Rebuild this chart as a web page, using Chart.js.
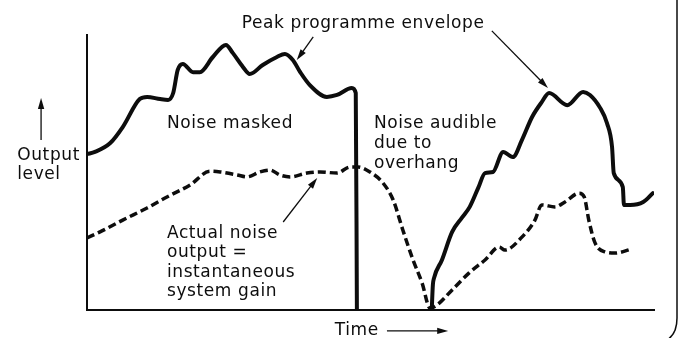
<!DOCTYPE html>
<html>
<head>
<meta charset="utf-8">
<script src="https://cdn.jsdelivr.net/npm/chart.js@4.4.1/dist/chart.umd.min.js"></script>
<style>
  html, body { margin: 0; padding: 0; background: #fff; }
  #wrap { width: 684px; height: 338px; }
</style>
</head>
<body>
<div id="wrap"><canvas id="envelope" width="684" height="338"></canvas></div>
<script>
// time runs 0..100 along the axis, output level 0..100 up the axis
const peakTime = [0, 1.4, 4.1, 6.3, 9.3, 10.6, 12.9, 14.3, 15.2, 16.0, 16.9, 18.7, 19.9, 22.2, 24.5,
  25.7, 27.5, 28.7, 31.0, 33.5, 34.9, 36.3, 37.6, 39.3, 42.3, 44.1, 46.7, 47.4, 47.6, 54,
  60.8, 61.0, 61.2, 62.6, 64.4, 66.1, 67.5, 69.0, 70.2, 71.6, 73.4, 75.1, 76.7, 78.5, 80.2,
  81.5, 84.7, 87.5, 88.7, 90.5, 91.7, 92.6, 92.9, 94.5, 94.7, 95.8, 98.1, 99.8];
const peakLevel = [56.7, 57.5, 60.7, 66.5, 76.7, 77.5, 76.7, 76.4, 78.9, 87.3, 89.5, 86.5, 86.5, 92.0, 96.4,
  93.5, 88.4, 85.8, 89.1, 92.0, 93.1, 90.9, 86.5, 81.8, 77.5, 78.2, 80.7, 78.9, 0, null,
  0, 9.1, 11.6, 18.2, 28.4, 33.5, 37.5, 44.4, 49.8, 50.2, 57.5, 55.6, 61.8, 70.2, 75.6,
  78.9, 74.5, 79.3, 78.2, 73.5, 68.0, 59.3, 49.8, 44.7, 38.2, 38.2, 39.3, 42.5];

const noiseTime = [0, 2.3, 6.3, 10.6, 14.1, 18.2, 21.7, 23.5, 26.5, 28.2, 30.5, 32.3, 34.0, 35.8,
  38.8, 41.1, 44.1, 46.4, 47.8, 49.9, 52.2, 54.0, 55.7, 57.5, 59.1, 60.5, 61.7, 64.4, 67.4,
  70.2, 72.7, 73.7, 76.7, 79.0, 80.2, 82.5, 84.3, 86.8, 87.7, 88.5, 89.6, 91.4, 93.1, 96.1];
const noiseLevel = [26.2, 28.4, 32.7, 37.1, 41.1, 45.5, 50.5, 50.2, 49.1, 48.4, 50.2, 50.9, 49.1, 48.4,
  49.8, 50.2, 49.8, 52.0, 52.0, 50.2, 46.2, 40.0, 29.1, 18.2, 9.8, 0.7, 1.8, 7.3, 13.5,
  18.2, 22.9, 21.8, 26.5, 32.7, 38.2, 37.5, 39.3, 42.5, 41.1, 32.7, 24.4, 21.1, 20.7, 22.2];

// captions: [text, time, level] with level at the text baseline
const labels = [
  ['Peak programme envelope', 27.3, 102.5],
  ['Noise masked', 14.1, 66.2],
  ['Noise audible', 50.6, 66.2],
  ['due to', 50.6, 58.9],
  ['overhang', 50.6, 51.6],
  ['Output', -12.3, 54.5],
  ['level', -12.3, 47.6],
  ['Actual noise', 14.1, 26.2],
  ['output =', 14.1, 19.3],
  ['instantaneous', 14.1, 12.0],
  ['system gain', 14.1, 5.1],
  ['Time', 43.7, -9.1]
];
// pointers: [fromTime, fromLevel, toTime, toLevel]
const pointers = [
  [39.9, 99.3, 37.0, 90.9],
  [71.4, 101.5, 81.3, 80.7],
  [34.6, 32.0, 40.6, 48.0],
  [-8.1, 61.8, -8.1, 77.1],
  [52.9, -7.6, 63.7, -7.6]
];

const toPoints = (xs, ys) => xs.map((x, i) => ({ x, y: ys[i] }));

const ink = '#0d0d0d';

const notes = {
  id: 'notes',
  afterDraw(chart) {
    const { ctx, scales: { x, y } } = chart;
    ctx.save();
    ctx.fillStyle = ink;
    ctx.strokeStyle = ink;
    ctx.font = '17px "DejaVu Sans"';
    ctx.letterSpacing = '0.6px';
    ctx.textBaseline = 'alphabetic';
    labels.forEach(([t, tx, ty]) => {
      ctx.fillText(t, x.getPixelForValue(tx), y.getPixelForValue(ty));
    });

    ctx.lineWidth = 1.3;
    pointers.forEach(([x0, y0, x1, y1]) => {
      const ax = x.getPixelForValue(x0), ay = y.getPixelForValue(y0);
      const bx = x.getPixelForValue(x1), by = y.getPixelForValue(y1);
      const ang = Math.atan2(by - ay, bx - ax);
      const len = 11, wid = 3.2;
      ctx.beginPath();
      ctx.moveTo(ax, ay);
      ctx.lineTo(bx - Math.cos(ang) * len * 0.8, by - Math.sin(ang) * len * 0.8);
      ctx.stroke();
      ctx.beginPath();
      ctx.moveTo(bx, by);
      ctx.lineTo(bx - Math.cos(ang) * len - Math.sin(ang) * wid, by - Math.sin(ang) * len + Math.cos(ang) * wid);
      ctx.lineTo(bx - Math.cos(ang) * len + Math.sin(ang) * wid, by - Math.sin(ang) * len - Math.cos(ang) * wid);
      ctx.closePath();
      ctx.fill();
    });

    // frame edge on the right, rounding off at the bottom
    const w = chart.width, h = chart.height;
    ctx.lineWidth = 1.5;
    ctx.beginPath();
    ctx.moveTo(w - 7, 0);
    ctx.lineTo(w - 7, h - 20);
    ctx.quadraticCurveTo(w - 7, h - 4, w - 17, h + 2);
    ctx.stroke();
    ctx.restore();
  }
};

new Chart(document.getElementById('envelope'), {
  type: 'line',
  data: {
    datasets: [
      {
        data: toPoints(peakTime, peakLevel),
        borderColor: ink,
        borderWidth: 4,
        borderCapStyle: 'round',
        borderJoinStyle: 'round',
        cubicInterpolationMode: 'monotone',
        spanGaps: false,
        pointRadius: 0,
        fill: false
      },
      {
        data: toPoints(noiseTime, noiseLevel),
        borderColor: ink,
        borderWidth: 3.5,
        borderDash: [8, 4],
        cubicInterpolationMode: 'monotone',
        pointRadius: 0,
        fill: false
      }
    ]
  },
  options: {
    responsive: false,
    animation: false,
    layout: { padding: { left: 87, top: 35, right: 30, bottom: 28 } },
    plugins: { legend: { display: false }, tooltip: { enabled: false } },
    scales: {
      x: {
        type: 'linear', min: 0, max: 100,
        ticks: { display: false },
        grid: { display: false, drawTicks: false },
        border: { display: true, color: ink, width: 2 }
      },
      y: {
        type: 'linear', min: 0, max: 100,
        ticks: { display: false },
        grid: { display: false, drawTicks: false },
        border: { display: true, color: ink, width: 2 }
      }
    }
  },
  plugins: [notes]
});
</script>
</body>
</html>
